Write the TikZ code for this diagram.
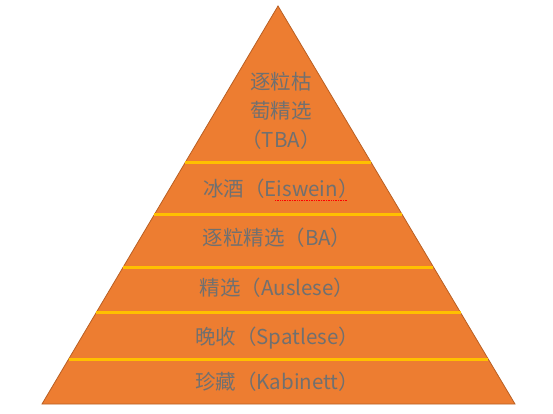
\documentclass[tikz,border=0pt]{standalone}
\usepackage{fontspec}
\setmainfont{Noto Sans CJK SC}
\usetikzlibrary{positioning, calc}
\definecolor{wineorange}{RGB}{237,125,49}
\definecolor{wineedge}{RGB}{185,95,35}
\definecolor{tiergold}{RGB}{255,192,0}
\definecolor{labelgray}{RGB}{112,112,112}
\tikzset{
tier/.style={
    text=labelgray,
    font=\fontsize{20.5}{29}\selectfont,
    align=center,
    inner sep=0pt
},
divider/.style={
    draw=tiergold,
    line width=3pt
}
}

\begin{document}
\begin{tikzpicture}[x=1pt, y=1pt]
\useasboundingbox (0,0) rectangle (553,-414);

% PYRAMID
\coordinate (apex) at (278,-6);
\coordinate (bl) at (42,-404);
\coordinate (br) at (515,-404);
\fill[wineorange, draw=wineedge, line width=0.8pt] (apex) -- (br) -- (bl) -- cycle;

% DIVIDERS
\foreach \t in {0.394, 0.525, 0.656, 0.771, 0.887}
  \draw[divider] ($(apex)!\t!(bl)$) -- ($(apex)!\t!(br)$);

% TIERS
\node[tier] (tba) at (281,-111) {逐粒枯\\萄精选\\（TBA）};
\node[tier] (eiswein) at (281,-189) {冰酒（Eiswein）};
\node[tier] (ba) at (277,-238) {逐粒精选（BA）};
\node[tier] (auslese) at (277,-288) {精选（Auslese）};
\node[tier] (spatlese) at (277,-338) {晚收（Spatlese）};
\node[tier] (kabinett) at (277,-382) {珍藏（Kabinett）};

% spell-check mark
\draw[red, densely dotted, line width=0.7pt] ($(eiswein.center)+(-6,-11)$) -- ($(eiswein.center)+(67,-11)$);

\end{tikzpicture}
\end{document}
